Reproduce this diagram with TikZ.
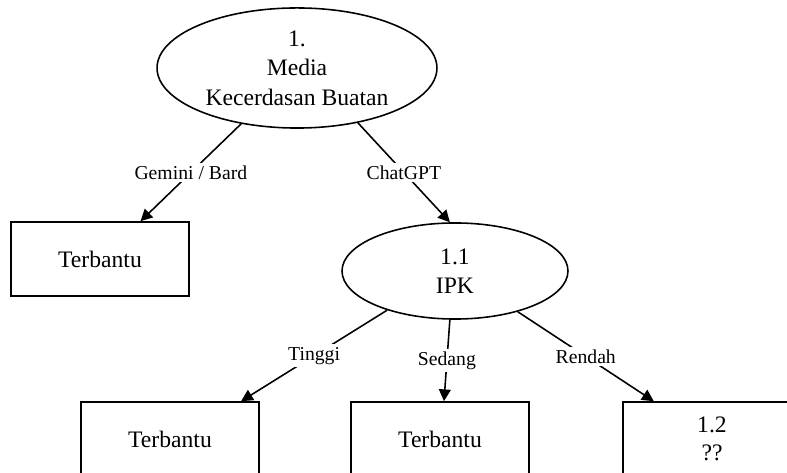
\documentclass[tikz,border=0pt]{standalone}
\usepackage{fontspec}
\setmainfont{Liberation Serif}
\usepackage{tikz}
\usetikzlibrary{arrows.meta, shapes.geometric}

\tikzset{
	proses/.style = {draw, ellipse, line width=.8pt, inner sep=0pt, align=center, font=\fontsize{12}{15}\selectfont},
	hasil/.style = {draw, rectangle, line width=.8pt, inner sep=0pt, minimum width=90.4pt, minimum height=37.6pt, align=center, font=\fontsize{12}{14}\selectfont},
	panah/.style = {-{Triangle[length=6pt,width=6pt]}, line width=.8pt},
	ket/.style = {fill=white, inner sep=1.5pt, font=\fontsize{10}{12}\selectfont}
}

\begin{document}
\begin{tikzpicture}[x=.508pt, y=-.508pt]
	\useasboundingbox (0,0) rectangle (787,473);
	\node [proses, minimum width=142.2pt, minimum height=61pt] (media) at (297,68) {1.\\Media\\Kecerdasan Buatan};
	\node [hasil] (gemini) at (100,259) {Terbantu};
	\node [proses, minimum width=114.8pt, minimum height=48.8pt] (ipk) at (455,271) {1.1\\IPK};
	\node [hasil] (tinggi) at (170,439) {Terbantu};
	\node [hasil] (sedang) at (440,439) {Terbantu};
	\node [hasil] (rendah) at (712,439) {1.2\\??};
	\draw [panah] (media.-135) -- (gemini.43.5) node [ket, pos=.5] {Gemini / Bard};
	\draw [panah] (media.-42) -- (ipk.96) node [ket, pos=.5] {ChatGPT};
	\draw [panah] (ipk.-150) -- (tinggi.28.5) node [ket, pos=.5] {Tinggi};
	\draw [panah] (ipk.-96) -- (sedang.84) node [ket, pos=.5] {Sedang};
	\draw [panah] (ipk.-33) -- (rendah.147.5) node [ket, pos=.5] {Rendah};
\end{tikzpicture}
\end{document}
